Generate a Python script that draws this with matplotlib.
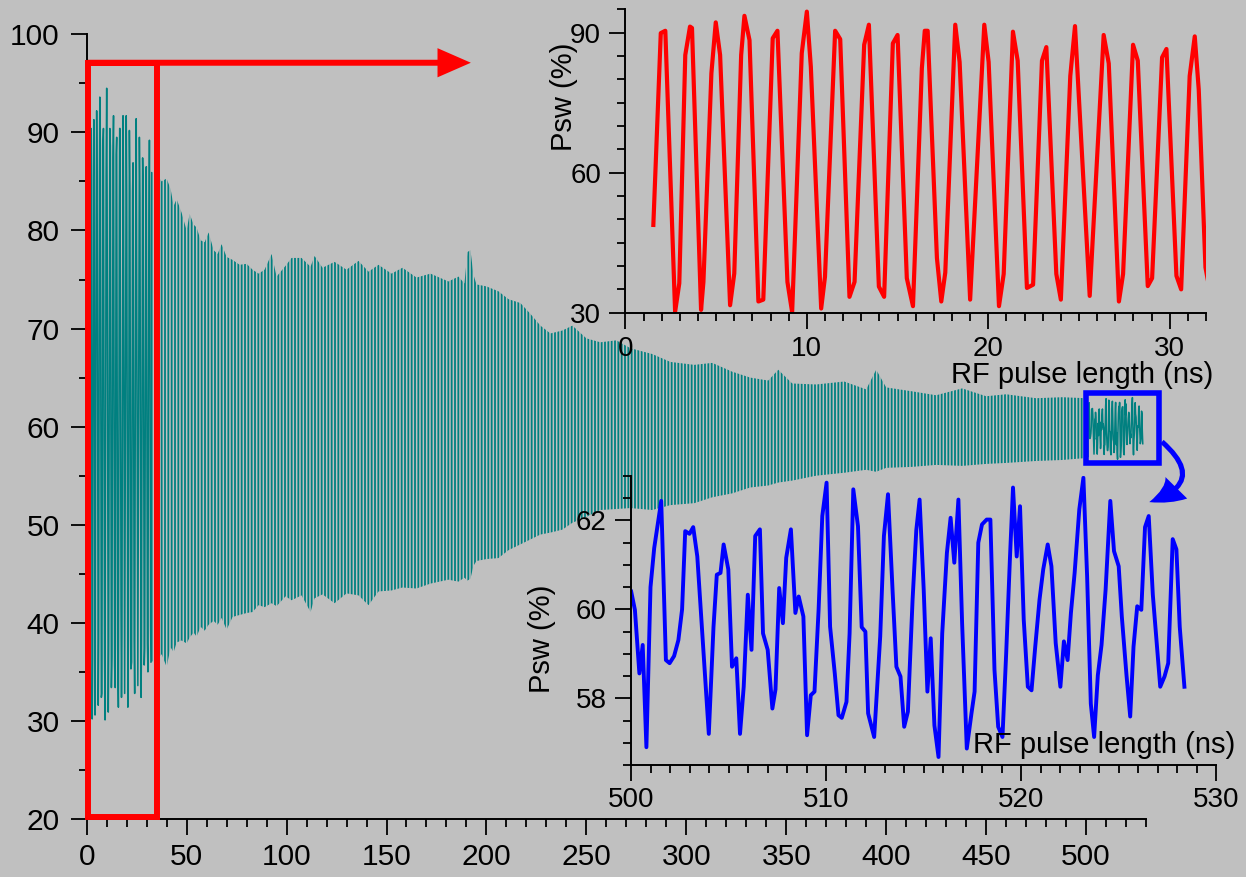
import matplotlib
matplotlib.use("Agg")
import matplotlib.pyplot as plt
from matplotlib.patches import Rectangle
from matplotlib.ticker import MultipleLocator

plt.rcParams["font.family"] = ["Liberation Sans", "DejaVu Sans"]
plt.rcParams["hatch.linewidth"] = 1.3

# switching probability, first 32 ns (red zoom)
red_t = [1.54, 1.95, 2.20, 2.74, 2.97, 3.30, 3.56, 3.67, 4.17, 4.30,
         4.74, 4.98, 5.22, 5.77, 6.00, 6.38, 6.56, 6.84, 7.33, 7.60,
         8.12, 8.38, 8.93, 9.19, 9.72, 10.00, 10.22, 10.79, 11.00, 11.56,
         11.84, 12.35, 12.63, 13.16, 13.42, 13.97, 14.26, 14.74, 15.00, 15.51,
         15.85, 16.34, 16.50, 16.66, 17.17, 17.41, 17.63, 18.18, 18.42, 19.00,
         19.78, 20.02, 20.59, 20.85, 21.36, 21.62, 22.13, 22.47, 22.96, 23.20,
         23.75, 24.00, 24.52, 24.78, 25.59, 26.36, 26.64, 27.20, 27.43, 27.98,
         28.24, 28.79, 29.03, 29.58, 29.82, 30.37, 30.63, 31.10, 31.38, 31.60,
         31.97, 32.15]
red_v = [48.8, 89.9, 90.4, 30.2, 36.3, 85.2, 91.3, 91.0, 30.6, 36.6,
         81.3, 92.2, 85.2, 31.6, 38.4, 85.2, 93.6, 88.4, 32.4, 32.8,
         88.8, 90.4, 36.6, 30.1, 85.6, 94.5, 82.7, 30.9, 37.7, 90.4,
         88.6, 33.4, 36.6, 87.4, 91.7, 35.6, 33.4, 87.7, 89.5, 37.4,
         31.4, 82.4, 90.4, 90.4, 41.7, 32.4, 38.6, 91.7, 83.7, 32.8,
         91.7, 83.7, 31.4, 38.3, 90.2, 84.0, 35.3, 36.0, 84.0, 86.9,
         38.3, 32.8, 80.7, 91.4, 33.6, 89.5, 83.4, 32.4, 38.3, 87.4,
         84.0, 35.7, 37.4, 84.7, 86.5, 37.9, 35.0, 80.7, 89.2, 77.8,
         39.7, 36.0]

# upper / lower envelope of the dense main trace, 32-500 ns
env_t = [32, 35, 37.5, 40, 42, 43.5, 45, 47.5, 50, 51.5,
         53.5, 55, 57, 59, 61, 63.5, 65.5, 67.5, 70, 73,
         76.5, 80, 83, 86, 89, 92.5, 95, 99.5, 102.5, 107.5,
         112, 114, 118, 124, 130, 136, 141, 146, 152.5, 158,
         165, 172, 181, 186, 189, 190.5, 192, 193.5, 195, 200,
         206, 211, 217, 222, 227, 232, 238, 243, 250, 257,
         265, 272, 283, 292, 304, 313, 323, 332, 341, 346,
         353, 365, 379, 390, 395, 400, 413, 425, 438, 450,
         460, 475, 488, 500]
env_hi = [86.0, 85.8, 85.0, 85.3, 84.2, 82.5, 83.2, 81.8, 80.0, 81.7,
          80.6, 80.3, 79.0, 78.8, 79.8, 78.0, 77.6, 78.6, 77.3, 77.0,
          76.5, 76.6, 76.0, 75.6, 76.0, 77.6, 75.3, 76.4, 77.2, 77.2,
          76.3, 77.4, 76.2, 76.8, 76.0, 76.9, 75.8, 76.5, 75.6, 76.2,
          75.2, 75.6, 74.8, 75.3, 74.6, 77.8, 78.0, 75.5, 74.5, 74.3,
          73.8, 73.0, 72.6, 71.5, 70.3, 69.5, 69.8, 70.3, 69.0, 68.6,
          68.8, 68.0, 67.4, 66.6, 66.3, 66.5, 65.6, 65.0, 64.7, 65.8,
          64.4, 64.3, 64.6, 63.8, 65.8, 64.0, 63.6, 63.2, 63.9, 63.1,
          63.3, 62.9, 63.0, 62.9]
env_lo = [36.0, 36.2, 36.8, 35.5, 37.5, 37.0, 38.0, 38.2, 37.9, 38.5,
          39.0, 38.6, 39.6, 39.2, 39.8, 40.2, 39.8, 40.5, 39.3, 40.6,
          40.8, 41.0, 41.1, 41.8, 41.6, 42.0, 41.7, 42.7, 42.3, 42.8,
          41.1, 42.5, 42.9, 42.0, 43.0, 42.8, 41.8, 43.2, 43.3, 43.6,
          43.5, 44.0, 44.4, 44.2, 44.6, 44.3, 44.5, 45.8, 46.3, 46.5,
          46.6, 47.4, 48.0, 48.5, 49.0, 49.2, 49.5, 50.2, 50.8, 51.5,
          51.6, 51.7, 51.5, 52.0, 52.2, 52.8, 53.2, 53.8, 54.0, 54.3,
          54.5, 55.0, 55.3, 55.6, 55.4, 55.8, 55.9, 56.1, 56.0, 56.2,
          56.3, 56.5, 56.6, 56.8]

# switching probability, 500-528 ns (blue zoom)
blue_t = [500.01, 500.20, 500.43, 500.60, 500.79, 501.00, 501.19, 501.55, 501.79, 501.98,
          502.21, 502.43, 502.62, 502.78, 503.00, 503.19, 503.40, 503.99, 504.23, 504.40,
          504.59, 504.75, 504.99, 505.18, 505.40, 505.59, 505.78, 505.99, 506.18, 506.37,
          506.61, 506.77, 507.01, 507.25, 507.41, 507.60, 507.79, 507.96, 508.20, 508.43,
          508.60, 508.84, 509.03, 509.22, 509.41, 509.62, 509.81, 510.03, 510.21, 510.45,
          510.64, 510.81, 511.05, 511.21, 511.40, 511.64, 511.83, 512.02, 512.16, 512.47,
          512.78, 512.97, 513.18, 513.42, 513.61, 513.82, 514.01, 514.20, 514.44, 514.63,
          514.80, 515.01, 515.20, 515.37, 515.56, 515.77, 515.96, 516.20, 516.39, 516.58,
          516.79, 516.98, 517.22, 517.46, 517.62, 517.81, 518.00, 518.24, 518.43, 518.64,
          518.83, 519.05, 519.24, 519.43, 519.59, 519.78, 519.95, 520.14, 520.35, 520.54,
          520.73, 520.95, 521.14, 521.37, 521.56, 521.78, 522.02, 522.20, 522.39, 522.56,
          522.75, 522.99, 523.20, 523.39, 523.58, 523.75, 523.94, 524.13, 524.34, 524.58,
          524.77, 525.01, 525.17, 525.41, 525.60, 525.77, 525.96, 526.17, 526.36, 526.55,
          526.76, 526.95, 527.14, 527.36, 527.55, 527.78, 527.97, 528.14, 528.38]
blue_v = [60.40, 59.99, 58.56, 59.20, 56.90, 60.50, 61.38, 62.44, 58.86, 58.79,
          58.95, 59.31, 60.00, 61.76, 61.70, 61.85, 61.19, 57.20, 59.60, 60.78,
          60.82, 61.46, 60.90, 58.71, 58.90, 57.20, 58.26, 60.33, 59.09, 61.65,
          61.80, 59.46, 59.09, 57.77, 58.20, 60.48, 59.69, 61.16, 61.80, 59.92,
          60.29, 59.84, 57.17, 58.07, 58.15, 59.99, 62.10, 62.85, 59.61, 58.56,
          57.62, 57.56, 57.92, 59.46, 62.70, 61.87, 59.60, 59.50, 57.66, 57.13,
          59.39, 61.65, 62.59, 60.37, 58.71, 58.49, 57.36, 57.70, 60.22, 61.78,
          62.47, 60.45, 58.15, 59.35, 57.39, 56.68, 59.46, 61.27, 62.06, 61.05,
          62.47, 59.69, 56.87, 57.66, 58.15, 61.50, 61.91, 62.02, 62.02, 58.64,
          57.36, 57.13, 59.01, 61.12, 62.74, 61.19, 62.32, 59.77, 58.26, 58.18,
          59.16, 60.22, 60.90, 61.46, 60.97, 59.24, 58.26, 59.28, 58.86, 59.92,
          60.82, 62.25, 62.96, 60.75, 57.88, 57.13, 58.52, 59.20, 60.45, 62.44,
          61.31, 60.97, 59.84, 58.52, 57.59, 59.16, 60.07, 59.99, 61.85, 62.10,
          60.33, 59.31, 58.26, 58.49, 58.79, 61.58, 61.35, 59.61, 58.26]

parameters = {"width": 1246,
              "height": 877,
              "background": "#c0c0c0",
              "teal": "#008080",
              "fontsize": 21.5,
              "inset fontsize": 20,
              "label fontsize": 21,
              # axes boxes in pixels: left, top, right, bottom
              "main box": (86.7, 34.3, 1146, 819),
              "red box": (625.4, 9.3, 1206, 312.7),
              "blue box": (631, 476, 1216, 765),
              }

W, H = parameters["width"], parameters["height"]


def axes_rect(box):
    left, top, right, bottom = box
    return [left / W, (H - bottom) / H, (right - left) / W, (bottom - top) / H]


def style_axes(ax, fontsize, xpad, ypad):
    for side in ["top", "right"]:
        ax.spines[side].set_visible(False)
    for side in ["left", "bottom"]:
        ax.spines[side].set_linewidth(1.4)
    ax.tick_params(which="major", direction="out", length=11.5, width=1.3,
                   labelsize=fontsize)
    ax.tick_params(which="minor", direction="out", length=5.8, width=1.3)
    ax.tick_params(axis="x", which="major", pad=xpad)
    ax.tick_params(axis="y", which="major", pad=ypad)


fig = plt.figure(figsize=(W / 100, H / 100), dpi=100,
                 facecolor=parameters["background"])

# main panel
ax = fig.add_axes(axes_rect(parameters["main box"]))
ax.set_facecolor(parameters["background"])
ax.plot(red_t, red_v, color=parameters["teal"], lw=1.1)
ax.fill_between(env_t, env_lo, env_hi, facecolor="none",
                edgecolor=parameters["teal"], hatch="|||||", linewidth=0)
ax.plot(blue_t, blue_v, color=parameters["teal"], lw=1.1)
ax.set_xlim(0, 530)
ax.set_ylim(20, 100)
ax.xaxis.set_major_locator(MultipleLocator(50))
ax.xaxis.set_minor_locator(MultipleLocator(10))
ax.yaxis.set_major_locator(MultipleLocator(10))
ax.yaxis.set_minor_locator(MultipleLocator(5))
style_axes(ax, parameters["fontsize"], 6, 8)

# zoom markers
ax.add_patch(Rectangle((0.6, 20.2), 34.6, 76.9, fill=False, ec="red",
                       lw=4.3, joinstyle="miter", clip_on=False, zorder=5))
ax.annotate("", xy=(192.2, 97.1), xytext=(0.6, 97.1),
            arrowprops=dict(arrowstyle="simple,head_length=2.4,head_width=2.1,tail_width=0.43",
                            color="red", lw=0, shrinkA=0, shrinkB=0,
                            mutation_scale=10),
            annotation_clip=False, zorder=5)
ax.add_patch(Rectangle((500.2, 56.3), 36.4, 7.1, fill=False, ec="blue",
                       lw=4.0, joinstyle="miter", clip_on=False, zorder=5))
ax.annotate("", xy=(531.65, 52.31), xytext=(538.0, 58.46),
            arrowprops=dict(arrowstyle="simple,head_length=2.2,head_width=2.2,tail_width=0.36",
                            connectionstyle="arc3,rad=-0.88",
                            color="blue", lw=0, shrinkA=0, shrinkB=0,
                            mutation_scale=10),
            annotation_clip=False, zorder=5)

# red inset, 0-32 ns
ax_r = fig.add_axes(axes_rect(parameters["red box"]))
ax_r.set_facecolor("none")
ax_r.plot(red_t, red_v, color="red", lw=3)
ax_r.set_xlim(0, 32)
ax_r.set_ylim(30, 95)
ax_r.xaxis.set_major_locator(MultipleLocator(10))
ax_r.xaxis.set_minor_locator(MultipleLocator(1))
ax_r.yaxis.set_major_locator(MultipleLocator(30))
ax_r.yaxis.set_minor_locator(MultipleLocator(5))
style_axes(ax_r, parameters["inset fontsize"], 5, 6)
ax_r.text(-0.106, 0.711, "Psw (%)", rotation=90, ha="center", va="center",
          transform=ax_r.transAxes, fontsize=parameters["label fontsize"])
ax_r.text(1.012, -0.205, "RF pulse length (ns)", ha="right", va="center",
          transform=ax_r.transAxes, fontsize=parameters["label fontsize"])

# blue inset, 500-530 ns
ax_b = fig.add_axes(axes_rect(parameters["blue box"]))
ax_b.set_facecolor("none")
ax_b.plot(blue_t, blue_v, color="blue", lw=2.8)
ax_b.set_xlim(500, 530)
ax_b.set_ylim(56.5, 63)
ax_b.xaxis.set_major_locator(MultipleLocator(10))
ax_b.xaxis.set_minor_locator(MultipleLocator(1))
ax_b.yaxis.set_major_locator(MultipleLocator(2))
ax_b.yaxis.set_minor_locator(MultipleLocator(0.5))
style_axes(ax_b, parameters["inset fontsize"], 4, 6)
ax_b.text(-0.152, 0.436, "Psw (%)", rotation=90, ha="center", va="center",
          transform=ax_b.transAxes, fontsize=parameters["label fontsize"])
ax_b.text(1.0325, 0.069, "RF pulse length (ns)", ha="right", va="center",
          transform=ax_b.transAxes, fontsize=parameters["label fontsize"])

fig.savefig("out.png", dpi=100, facecolor=parameters["background"])
